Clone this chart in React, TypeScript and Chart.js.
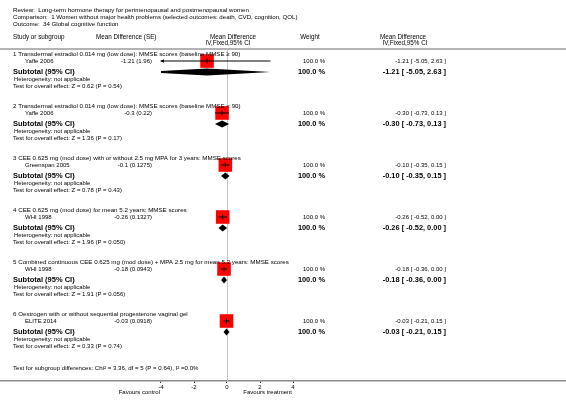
import React, { useEffect, useRef } from 'react';
import { Chart, registerables } from 'chart.js';

Chart.register(...registerables);

const titleLines = [
  'Review:  Long-term hormone therapy for perimenopausal and postmenopausal women',
  'Comparison:  1 Women without major health problems (selected outcomes: death, CVD, cognition, QOL)',
  'Outcome:  34 Global cognitive function',
];
const groupTitles = [
  '1 Transdermal estradiol 0.014 mg (low dose): MMSE scores (baseline MMSE \u2265 90)',
  '2 Transdermal estradiol 0.014 mg (low dose): MMSE scores (baseline MMSE < 90)',
  '3 CEE 0.625 mg (mod dose) with or without 2.5 mg MPA for 3 years: MMSE scores',
  '4 CEE 0.625 mg (mod dose) for mean 5.2 years: MMSE scores',
  '5 Combined continuous CEE 0.625 mg (mod dose) + MPA 2.5 mg for mean 5.2 years: MMSE scores',
  '6 Oestrogen with or without sequential progesterone vaginal gel',
];
const studies = ['Yaffe 2006', 'Yaffe 2006', 'Greenspan 2005', 'WHI 1998', 'WHI 1998', 'ELITE 2014'];
const meanDiffs = [-1.21, -0.3, -0.1, -0.26, -0.18, -0.03];
const seLabels = ['-1.21 (1.96)', '-0.3 (0.22)', '-0.1 (0.1275)', '-0.26 (0.1327)', '-0.18 (0.0943)', '-0.03 (0.0918)'];
const ciLow = [-5.05, -0.73, -0.35, -0.52, -0.36, -0.21];
const ciHigh = [2.63, 0.13, 0.15, 0.0, 0.0, 0.15];
const weights = ['100.0 %', '100.0 %', '100.0 %', '100.0 %', '100.0 %', '100.0 %'];
const heterogeneity = [
  'Heterogeneity: not applicable',
  'Heterogeneity: not applicable',
  'Heterogeneity: not applicable',
  'Heterogeneity: not applicable',
  'Heterogeneity: not applicable',
  'Heterogeneity: not applicable',
];
const overallTests = [
  'Test for overall effect: Z = 0.62 (P = 0.54)',
  'Test for overall effect: Z = 1.36 (P = 0.17)',
  'Test for overall effect: Z = 0.78 (P = 0.43)',
  'Test for overall effect: Z = 1.96 (P = 0.050)',
  'Test for overall effect: Z = 1.91 (P = 0.056)',
  'Test for overall effect: Z = 0.33 (P = 0.74)',
];
const subgroupTest = 'Test for subgroup differences: Chi\u00b2 = 3.36, df = 5 (P = 0.64), I\u00b2 =0.0%';
const headerLabels = ['Study or subgroup', 'Mean Difference (SE)', 'Mean Difference', 'IV,Fixed,95% CI', 'Weight', 'Mean Difference', 'IV,Fixed,95% CI'];
const subtotalLabel = 'Subtotal (95% CI)';
const xTicks = [-4, -2, 0, 2, 4];
const favourLabels = ['Favours control', 'Favours treatment'];

// layout
const W = 566;
const H = 405;
const ZERO_PX = 227;
const PX_PER_UNIT = 16.5;
const AXIS_Y = 381;
const PLOT_MIN = -4;
const PLOT_MAX = 4;
const FONT = '"Liberation Sans", Arial, Helvetica, sans-serif';

const groupY = (i: number) => 54 + 52 * i;
const studyY = (i: number) => groupY(i) + 7;
const subtotalY = (i: number) => groupY(i) + 18;
const hetY = (i: number) => groupY(i) + 25.5;
const testY = (i: number) => groupY(i) + 32.5;

const fmt = (v: number) => v.toFixed(2);
const ciText = (i: number) => `${fmt(meanDiffs[i])} [ ${fmt(ciLow[i])}, ${fmt(ciHigh[i])} ]`;
const clip = (v: number) => Math.max(PLOT_MIN, Math.min(PLOT_MAX, v));

const forestPlugin = {
  id: 'forest',
  beforeDatasetsDraw(chart: any) {
    const { ctx } = chart;
    const xs = chart.scales.x;
    const ys = chart.scales.y;
    ctx.save();
    // header separator
    ctx.strokeStyle = '#9a9a9a';
    ctx.lineWidth = 1.5;
    ctx.beginPath();
    ctx.moveTo(0, ys.getPixelForValue(49));
    ctx.lineTo(W, ys.getPixelForValue(49));
    ctx.stroke();
    // zero line
    ctx.strokeStyle = '#c4c4c4';
    ctx.lineWidth = 1;
    const zx = Math.round(xs.getPixelForValue(0)) + 0.5;
    ctx.beginPath();
    ctx.moveTo(zx, ys.getPixelForValue(50));
    ctx.lineTo(zx, ys.getPixelForValue(AXIS_Y));
    ctx.stroke();
    ctx.restore();
  },
  afterDatasetsDraw(chart: any) {
    const { ctx } = chart;
    const xs = chart.scales.x;
    const ys = chart.scales.y;
    const px = (v: number) => xs.getPixelForValue(v);
    const py = (v: number) => ys.getPixelForValue(v);
    const text = (s: string, x: number, y: number, align: CanvasTextAlign, size: number, bold = false) => {
      ctx.font = `${bold ? 'bold ' : ''}${size}px ${FONT}`;
      ctx.textAlign = align;
      ctx.textBaseline = 'middle';
      ctx.fillStyle = '#000';
      ctx.fillText(s, x, py(y));
    };
    ctx.save();
    // titles
    titleLines.forEach((t, i) => text(t, 13, 10.5 + 7 * i, 'left', 6.15));
    // headers
    text(headerLabels[0], 13, 37.5, 'left', 6.3);
    text(headerLabels[1], 96, 37.5, 'left', 6.3);
    text(headerLabels[2], 233, 37.5, 'center', 6.3);
    text(headerLabels[3], 228, 43.5, 'center', 6.3);
    text(headerLabels[4], 310, 37.5, 'center', 6.3);
    text(headerLabels[5], 403, 37.5, 'center', 6.3);
    text(headerLabels[6], 405, 43.5, 'center', 6.3);

    groupTitles.forEach((g, i) => {
      text(g, 13, groupY(i), 'left', 6.2);
      text(studies[i], 25, studyY(i), 'left', 6);
      text(seLabels[i], 152, studyY(i), 'right', 6);
      text(weights[i], 325, studyY(i), 'right', 6);
      text(ciText(i), 446, studyY(i), 'right', 6);
      text(subtotalLabel, 13, subtotalY(i), 'left', 7.5, true);
      text(weights[i], 325, subtotalY(i), 'right', 7.4, true);
      text(ciText(i), 446, subtotalY(i), 'right', 7.4, true);
      text(heterogeneity[i], 14, hetY(i), 'left', 5.9);
      text(overallTests[i], 13, testY(i), 'left', 6);

      // diamond
      const y = py(subtotalY(i));
      const h = 3.5;
      ctx.save();
      ctx.beginPath();
      ctx.rect(px(PLOT_MIN), 0, px(PLOT_MAX) - px(PLOT_MIN), H);
      ctx.clip();
      ctx.fillStyle = '#000';
      ctx.beginPath();
      ctx.moveTo(px(ciLow[i]), y);
      ctx.lineTo(px(meanDiffs[i]), y - h);
      ctx.lineTo(px(ciHigh[i]), y);
      ctx.lineTo(px(meanDiffs[i]), y + h);
      ctx.closePath();
      ctx.fill();
      ctx.restore();

      // arrows for clipped CIs
      const sy = py(studyY(i));
      ctx.fillStyle = '#000';
      if (ciLow[i] < PLOT_MIN) {
        const ax = px(PLOT_MIN);
        ctx.beginPath();
        ctx.moveTo(ax - 1, sy);
        ctx.lineTo(ax + 3, sy - 1.8);
        ctx.lineTo(ax + 3, sy + 1.8);
        ctx.closePath();
        ctx.fill();
      }
      if (ciHigh[i] > PLOT_MAX) {
        const ax = px(PLOT_MAX);
        ctx.beginPath();
        ctx.moveTo(ax + 1, sy);
        ctx.lineTo(ax - 3, sy - 1.8);
        ctx.lineTo(ax - 3, sy + 1.8);
        ctx.closePath();
        ctx.fill();
      }
    });
    text(subgroupTest, 13, 368, 'left', 6.1);
    // favours labels
    text(favourLabels[0], px(-4) - 1, 392.5, 'right', 6);
    text(favourLabels[1], px(4) - 1, 392.5, 'right', 6);
    ctx.restore();
  },
};

export default function App() {
  const ref = useRef<HTMLCanvasElement | null>(null);
  useEffect(() => {
    if (!ref.current) return;
    const ciDatasets = studies.map((_, i) => ({
      type: 'line' as const,
      data: [
        { x: clip(ciLow[i]), y: studyY(i) },
        { x: clip(ciHigh[i]), y: studyY(i) },
      ],
      borderColor: '#000',
      borderWidth: 1,
      pointRadius: 0,
      fill: false,
      order: 1,
    }));
    const chart = new Chart(ref.current, {
      type: 'scatter',
      data: {
        datasets: [
          ...ciDatasets,
          {
            type: 'scatter' as const,
            data: meanDiffs.map((m, i) => ({ x: m, y: studyY(i) })),
            pointStyle: 'line',
            rotation: 90,
            pointRadius: 2.5,
            borderColor: '#000',
            borderWidth: 1,
            order: 0,
          },
          {
            type: 'scatter' as const,
            data: meanDiffs.map((m, i) => ({ x: m, y: studyY(i) })),
            pointStyle: 'rect',
            pointRadius: 9.6,
            backgroundColor: '#ff0000',
            borderColor: '#ff0000',
            borderWidth: 0,
            order: 3,
          },
        ],
      },
      options: {
        animation: false,
        responsive: false,
        devicePixelRatio: 1,
        layout: { padding: 0, autoPadding: false },
        plugins: { legend: { display: false }, tooltip: { enabled: false } },
        events: [],
        scales: {
          x: {
            type: 'linear',
            min: -ZERO_PX / PX_PER_UNIT,
            max: (W - ZERO_PX) / PX_PER_UNIT,
            afterBuildTicks: (scale: any) => {
              scale.ticks = xTicks.map((v) => ({ value: v }));
            },
            afterFit: (scale: any) => {
              scale.height = H - AXIS_Y;
            },
            border: { display: true, color: '#8c8c8c', width: 1.5 },
            grid: { display: true, drawOnChartArea: false, drawTicks: true, tickLength: 2, color: '#000', lineWidth: 0.8 },
            ticks: {
              autoSkip: false,
              maxRotation: 0,
              padding: 1,
              color: '#000',
              font: { family: FONT, size: 6 },
              callback: (v: any) => String(v),
            },
          },
          y: {
            type: 'linear',
            display: false,
            min: 0,
            max: AXIS_Y,
            reverse: true,
          },
        },
      },
      plugins: [forestPlugin],
    } as any);
    return () => chart.destroy();
  }, []);
  return (
    <div style={{ position: 'fixed', left: 0, top: 0, width: W, height: H, background: '#fff' }}>
      <canvas ref={ref} width={W} height={H} style={{ display: 'block', width: W, height: H }} />
    </div>
  );
}
